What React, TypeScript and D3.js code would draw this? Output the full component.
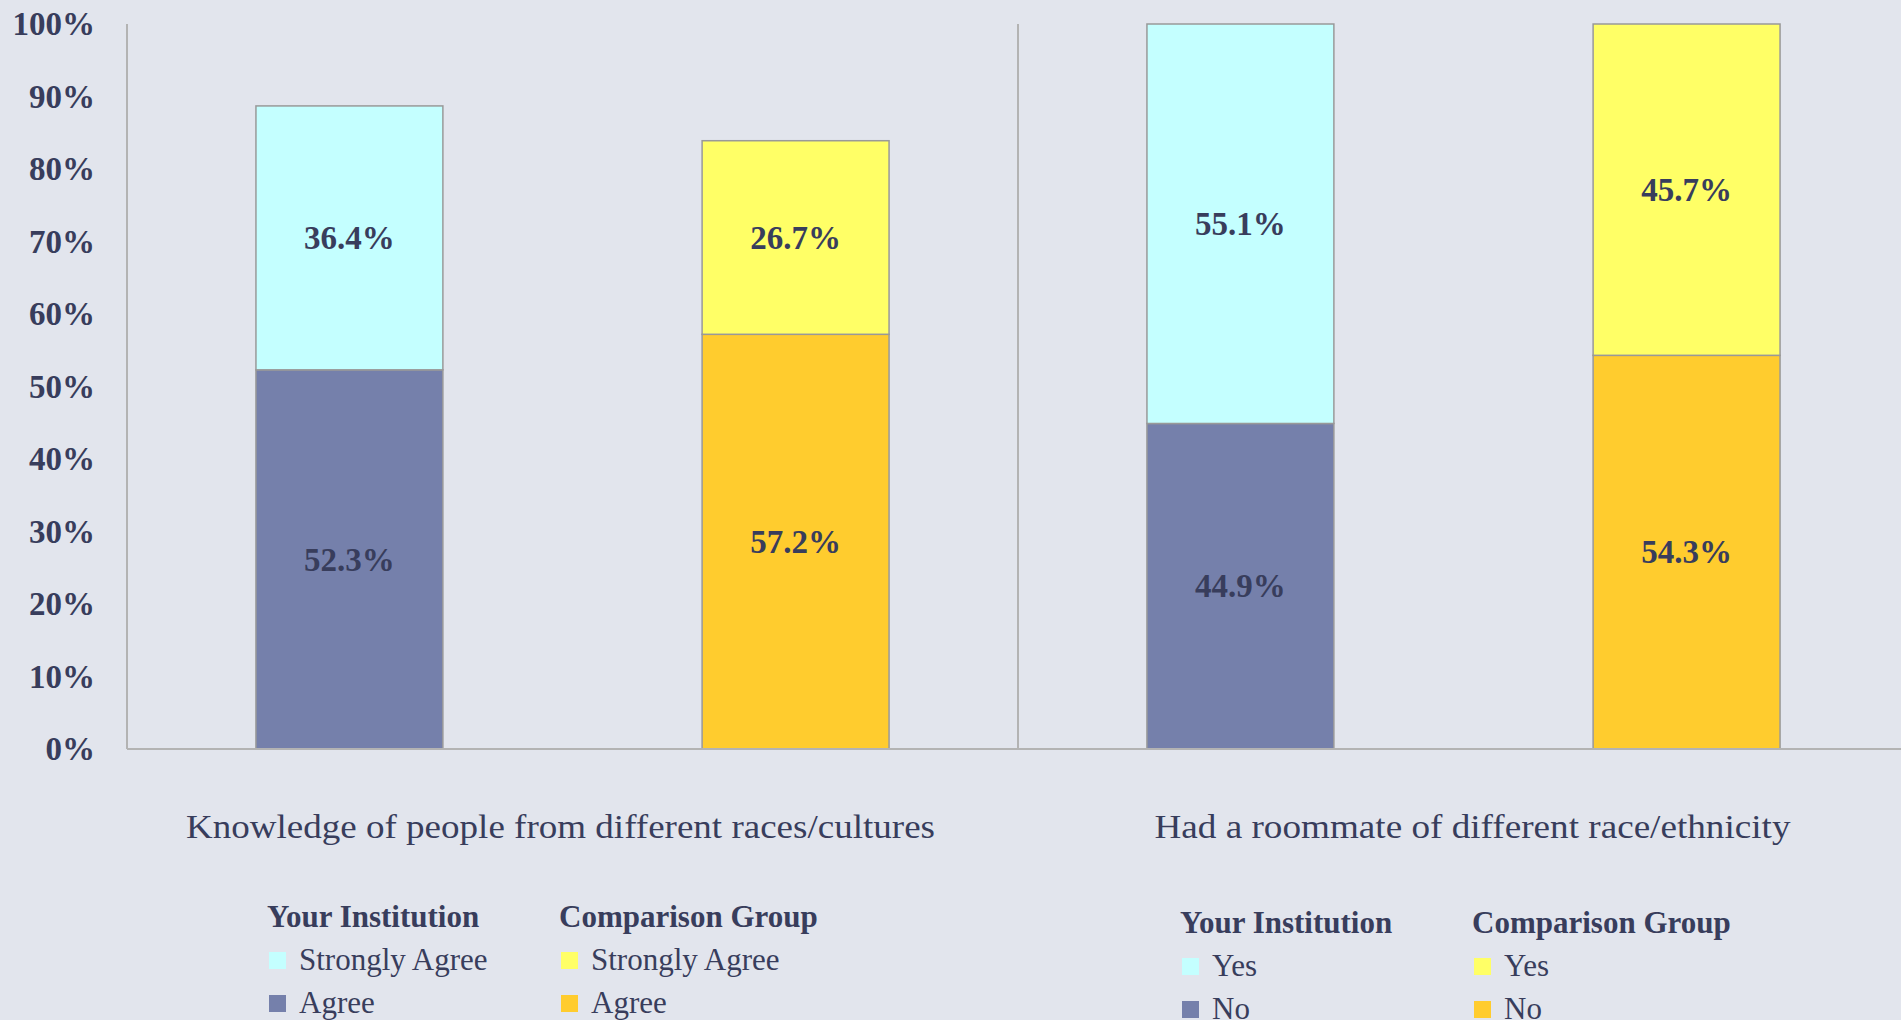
import React from 'react'
import * as d3 from 'd3'

const categories = ['Knowledge of people from different races/cultures', 'Had a roommate of different race/ethnicity']
const groups = ['Your Institution', 'Comparison Group']
const lowerLabels = ['Agree', 'No']
const upperLabels = ['Strongly Agree', 'Yes']
const yourLower = [52.3, 44.9]
const yourUpper = [36.4, 55.1]
const compLower = [57.2, 54.3]
const compUpper = [26.7, 45.7]
const yTicks = [0, 10, 20, 30, 40, 50, 60, 70, 80, 90, 100]

const W = 1901, H = 1020
const M = { left: 127, right: -8, top: 24, bottom: 271 }
const BG = '#E2E5ED'
const INK = '#383D5C'
const AXIS = '#B3B3B3'
const COLORS = {
  'Your Institution': { upper: '#C4FFFF', lower: '#7580AB' },
  'Comparison Group': { upper: '#FFFF66', lower: '#FFCC2E' },
}
const FONT = '"Liberation Serif", "DejaVu Serif", serif'
// legend anchors: [left x, header baseline] per category
const LEGEND = [{ x: 269, y: 927, dx: 292 }, { x: 1182, y: 933, dx: 292 }]

export default function App() {
  const x0 = d3.scaleBand<string>().domain(categories).range([M.left, W - M.right])
  const x1 = d3.scaleBand<string>().domain(groups).range([0, x0.bandwidth()]).paddingInner(0.581).paddingOuter(0.289)
  const y = d3.scaleLinear().domain([0, 100]).range([H - M.bottom, M.top])
  const base = y(0)

  const stacks = categories.map((c, i) => [
    { g: groups[0], lower: yourLower[i], upper: yourUpper[i] },
    { g: groups[1], lower: compLower[i], upper: compUpper[i] },
  ])

  return (
    <div style={{ position: 'fixed', left: 0, top: 0, background: BG }}>
      <svg width={W} height={H} style={{ display: 'block', fontFamily: FONT }}>
        <rect width={W} height={H} fill={BG} />
        {yTicks.map(t => (
          <text key={t} x={95} y={y(t)} dy="0.34em" textAnchor="end" fontSize={33} fontWeight="bold" fill={INK}>{t}%</text>
        ))}
        {categories.map((c, i) => {
          const gx = x0(c)!
          return (
            <g key={c}>
              {stacks[i].map(s => {
                const bx = gx + x1(s.g)!
                const bw = x1.bandwidth()
                const col = COLORS[s.g as keyof typeof COLORS]
                return (
                  <g key={s.g}>
                    <rect x={bx} y={y(s.lower)} width={bw} height={base - y(s.lower)} fill={col.lower} stroke="#999" strokeWidth={1.5} />
                    <rect x={bx} y={y(s.lower + s.upper)} width={bw} height={y(s.lower) - y(s.lower + s.upper)} fill={col.upper} stroke="#999" strokeWidth={1.5} />
                    <text x={bx + bw / 2} y={(base + y(s.lower)) / 2} dy="0.34em" textAnchor="middle" fontSize={33} fontWeight="bold" fill={INK}>{s.lower.toFixed(1)}%</text>
                    <text x={bx + bw / 2} y={(y(s.lower) + y(s.lower + s.upper)) / 2} dy="0.34em" textAnchor="middle" fontSize={33} fontWeight="bold" fill={INK}>{s.upper.toFixed(1)}%</text>
                  </g>
                )
              })}
              <text x={gx + x0.bandwidth() / 2 - (i === 0 ? 12 : -9)} y={838} textAnchor="middle" fontSize={33} fill={INK}
                textLength={i === 0 ? 749 : 636} lengthAdjust="spacingAndGlyphs">{c}</text>
              {groups.map((g, j) => {
                const L = LEGEND[i]
                const lx = L.x + j * L.dx
                const col = COLORS[g as keyof typeof COLORS]
                return (
                  <g key={g}>
                    <text x={lx - 2} y={L.y} fontSize={31} fontWeight="bold" fill={INK}>{g}</text>
                    {[{ lab: upperLabels[i], fill: col.upper }, { lab: lowerLabels[i], fill: col.lower }].map((it, k) => (
                      <g key={it.lab}>
                        <rect x={lx} y={L.y + 25 + k * 43} width={17} height={17} fill={it.fill} />
                        <text x={lx + 30} y={L.y + 43 + k * 43} fontSize={31} fill={INK}>{it.lab}</text>
                      </g>
                    ))}
                  </g>
                )
              })}
            </g>
          )
        })}
        <line x1={M.left} x2={M.left} y1={M.top} y2={base} stroke={AXIS} strokeWidth={2} />
        <line x1={x0(categories[1])!} x2={x0(categories[1])!} y1={M.top} y2={base} stroke={AXIS} strokeWidth={2} />
        <line x1={M.left} x2={W} y1={base} y2={base} stroke={AXIS} strokeWidth={2} />
      </svg>
    </div>
  )
}
